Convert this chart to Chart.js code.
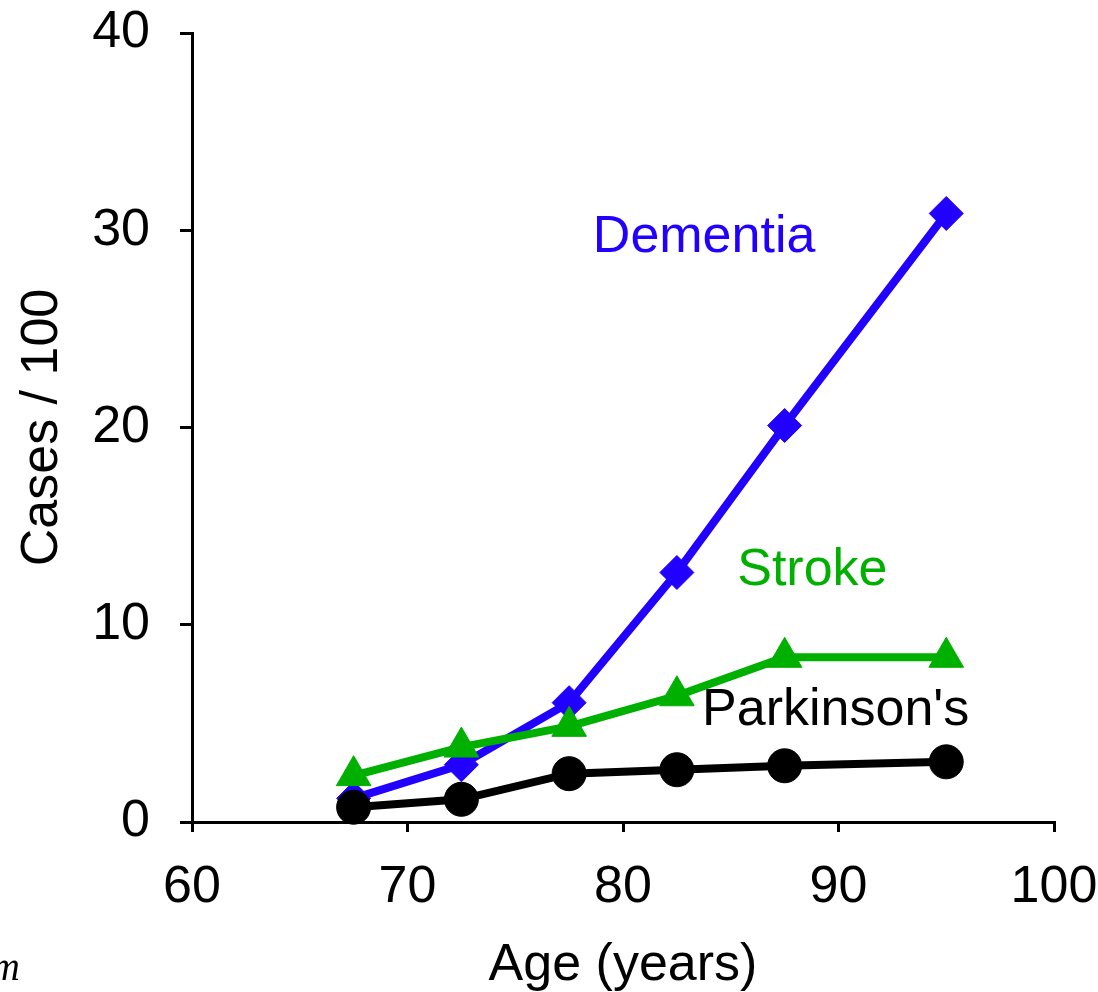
<!DOCTYPE html>
<html><head><meta charset="utf-8">
<script src="https://cdn.jsdelivr.net/npm/chart.js@4/dist/chart.umd.min.js"></script>
<style>html,body{margin:0;padding:0;background:#fff;} canvas{display:block;}</style>
</head><body>
<canvas id="c" width="1098" height="992"></canvas>
<script>
// ---- data ----
const ages = [67.5, 72.5, 77.5, 82.5, 87.5, 95];
const dementia = [1.2, 2.9, 6.05, 12.65, 20.1, 30.85];
const stroke = [2.35, 3.8, 4.85, 6.4, 8.35, 8.35];
const parkinsons = [0.75, 1.15, 2.45, 2.65, 2.85, 3.05];
const xTicks = [60, 70, 80, 90, 100];
const yTicks = [0, 10, 20, 30, 40];
const seriesNames = ['Dementia', 'Stroke', "Parkinson's"];
const seriesColors = ['#2200FF', '#00B000', '#000000'];
// label anchors in data units (left edge x, baseline y)
const labelAgeX = [78.6, 85.3, 83.67];
const labelCasesY = [28.9, 12.0, 4.92];

const FONT = '"Liberation Sans", Arial, sans-serif';
const FS = 52;
const pts = vals => ages.map((a, i) => ({x: a, y: vals[i]}));

const labelPlugin = {
  id: 'seriesLabels',
  afterDatasetsDraw(chart) {
    const {ctx, scales: {x, y}} = chart;
    ctx.save();
    ctx.font = FS + 'px ' + FONT;
    ctx.textAlign = 'left';
    ctx.textBaseline = 'alphabetic';
    seriesNames.forEach((n, i) => {
      ctx.fillStyle = seriesColors[i];
      ctx.fillText(n, x.getPixelForValue(labelAgeX[i]), y.getPixelForValue(labelCasesY[i]));
    });
    // cropped italic fragment at bottom-left
    ctx.font = 'italic 40px "Liberation Serif", serif';
    ctx.fillStyle = '#000';
    ctx.textAlign = 'right';
    ctx.fillText('m', 20, 980);
    ctx.restore();
  }
};

new Chart(document.getElementById('c'), {
  type: 'line',
  data: {
    datasets: [
      {label: seriesNames[0], data: pts(dementia), borderColor: seriesColors[0], backgroundColor: seriesColors[0],
       borderWidth: 8, pointStyle: 'rectRot', pointRadius: 17, pointBorderWidth: 1, order: 3},
      {label: seriesNames[1], data: pts(stroke), borderColor: seriesColors[1], backgroundColor: seriesColors[1],
       borderWidth: 8, pointStyle: 'triangle', pointRadius: 20, pointBorderWidth: 1, order: 2},
      {label: seriesNames[2], data: pts(parkinsons), borderColor: seriesColors[2], backgroundColor: seriesColors[2],
       borderWidth: 8, pointStyle: 'circle', pointRadius: 17, pointBorderWidth: 1, order: 1}
    ]
  },
  options: {
    responsive: false,
    animation: false,
    clip: false,
    layout: {padding: {top: 33, right: 44, left: 0, bottom: 0}},
    plugins: {legend: {display: false}, tooltip: {enabled: false}},
    scales: {
      x: {
        type: 'linear', min: 60, max: 100,
        afterBuildTicks: s => { s.ticks = xTicks.map(v => ({value: v})); },
        afterFit: s => { s.height = 170; s.paddingLeft = 0; s.paddingRight = 0; },
        border: {display: true, color: '#000', width: 3},
        grid: {drawOnChartArea: false, drawTicks: true, tickLength: 10, color: '#000', lineWidth: 3},
        ticks: {color: '#000', font: {family: FONT, size: FS, lineHeight: 1}, padding: 30, maxRotation: 0, autoSkip: false},
        title: {display: true, text: 'Age (years)', color: '#000', font: {family: FONT, size: FS, lineHeight: 1}, padding: {top: 0, bottom: 0}}
      },
      y: {
        type: 'linear', min: 0, max: 40,
        afterBuildTicks: s => { s.ticks = yTicks.map(v => ({value: v})); },
        afterFit: s => { s.width = 192; s.paddingTop = 0; s.paddingBottom = 0; },
        border: {display: true, color: '#000', width: 3},
        grid: {drawOnChartArea: false, drawTicks: true, tickLength: 12, color: '#000', lineWidth: 3},
        ticks: {color: '#000', font: {family: FONT, size: FS, lineHeight: 1}, padding: 30, autoSkip: false},
        title: {display: true, text: 'Cases / 100', color: '#000', font: {family: FONT, size: FS, lineHeight: 1.2}, padding: {top: 11, bottom: 0}}
      }
    }
  },
  plugins: [labelPlugin]
});
</script>
</body></html>
